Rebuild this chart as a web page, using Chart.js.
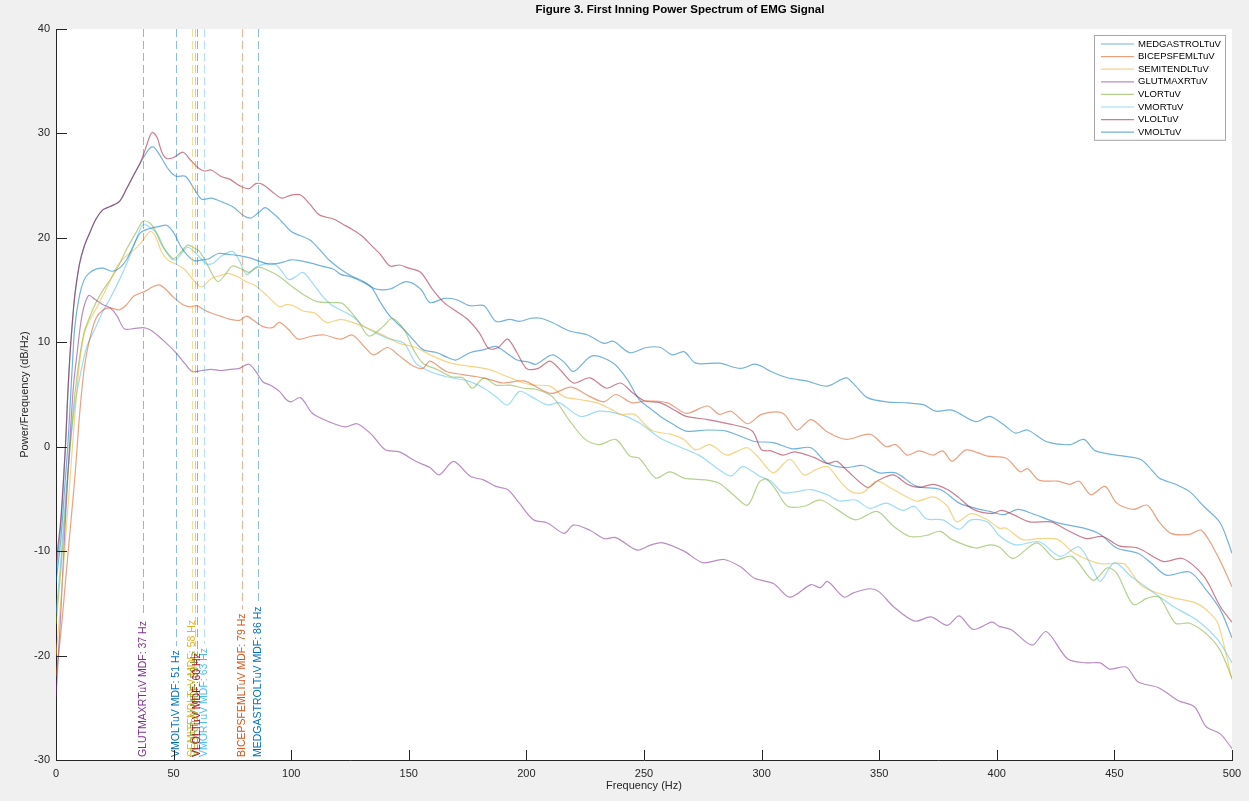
<!DOCTYPE html>
<html>
<head>
<meta charset="utf-8">
<title>First Inning Power Spectrum of EMG Signal</title>
<script src="https://cdn.jsdelivr.net/npm/chart.js@4.4.1/dist/chart.umd.min.js"></script>
<style>
  html, body { margin: 0; padding: 0; background: #f0f0f0; }
  #wrap { width: 1249px; height: 801px; position: relative; }
</style>
</head>
<body>
<div id="wrap"><canvas id="psd"></canvas></div>
<script>
// [Hz, dB/Hz] pairs for each channel, first inning
const medGastroL = [[0,-13],[2,-9],[4,-3],[5,0],[6,4],[7,8],[8,11.5],[10,14.5],[12,16],[14,16.6],[17,17],[20,17.1],[24,16.8],[27,17.1],[30,17.9],[33,19.3],[36,20.5],[40,20.9],[44,21.1],[47,21.2],[50,20.5],[53,19.2],[56,18.3],[59,17.8],[62,17.9],[65,18],[69,18.5],[74,18.4],[78,18.3],[82,18.1],[86,17.8],[90,17.5],[93,17.5],[97,17.7],[100,17.9],[104,17.8],[108,17.6],[113,17.3],[118,17],[121,16.5],[125,16.3],[131,15.7],[136,15.1],[142,15.1],[149,15.8],[155,15.1],[159,13.8],[165,14.2],[170,14.1],[176,13.5],[182,13.5],[187,12],[193,12.2],[197,12],[202,12.3],[206,12.3],[211,11.9],[218,11.1],[226,10.7],[233,9.9],[237,10.1],[244,9],[251,9.5],[257,9.5],[262,8.8],[267,9.1],[272,8],[282,8],[291,7.5],[297,7.9],[300,7.7],[304,7.2],[311,6.6],[319,6.3],[328,5.8],[336,6.6],[340,5.8],[345,4.7],[353,4.3],[362,4.2],[369,4],[374,3.4],[381,3.5],[391,2.4],[397,2.9],[403,2.1],[408,1.3],[413,1.6],[421,0.5],[431,0.2],[437,0.7],[442,-0.4],[454,-0.9],[461,-1.2],[465,-2],[469,-3],[476,-3.6],[482,-4.3],[488,-5.7],[495,-7.3],[500,-10.2]];

const bicepsFemL = [[0,-22],[2,-18],[4,-13],[6,-8],[8,-3],[10,3],[12,7.5],[14,10],[17,12.3],[20,13.1],[23,13.3],[27,13.1],[30,13.6],[33,14.4],[38,14.9],[41,15.3],[44,15.5],[47,15],[50,14.3],[54,13.6],[57,13.4],[60,13.5],[63,13.1],[66,12.8],[70,12.5],[74,12.2],[78,12.1],[81,12.5],[84,12.1],[88,11.5],[92,11.4],[95,11.9],[99,11.2],[103,10.3],[109,10.6],[114,10.7],[121,10.3],[126,10.7],[131,9.6],[135,8.8],[141,9.5],[146,8.7],[152,7.7],[156,7.5],[159,8.2],[166,7.2],[173,6.9],[179,6.7],[185,6.4],[190,6.1],[199,6.3],[206,5.5],[211,5.1],[219,5.7],[227,4.8],[233,4.3],[238,5],[245,4.2],[251,4.4],[260,4.2],[268,3.2],[277,3.9],[282,3.1],[287,3.4],[294,2.2],[300,3.1],[309,3.2],[315,1.6],[321,2.6],[328,1.4],[336,0.7],[346,1.2],[353,0],[357,0.2],[362,-0.8],[367,-0.4],[373,-0.8],[377,-0.4],[381,-1.4],[387,-0.3],[396,-0.9],[404,-1.1],[410,-2.4],[413,-2.1],[418,-3.2],[426,-3.3],[431,-3.6],[435,-3.3],[440,-4.6],[446,-3.8],[451,-5.4],[458,-6],[464,-5.6],[469,-7.2],[474,-8.3],[482,-8.4],[487,-8],[494,-10.5],[500,-13.4]];

const semitendL = [[0,-20],[2,-15],[4,-9],[6,-3],[8,3],[10,8],[12,10.8],[14,12],[17,13.2],[20,14.5],[23,15.9],[26,17.3],[30,18.3],[33,18.8],[36,19.5],[40,20.6],[42,20.3],[45,18.6],[48,17.8],[51,17.5],[55,16.9],[59,15.8],[62,15.3],[66,16.1],[70,16.4],[73,16.6],[77,16.3],[81,15.8],[85,15.4],[90,14.4],[95,13.4],[98,13.6],[101,13.5],[105,13],[110,12.8],[115,11.9],[121,12.2],[126,11.9],[132,11.4],[139,10.7],[146,9.9],[153,9.5],[160,8.7],[168,8],[176,7.7],[184,7.4],[192,6.7],[199,6.1],[203,5.9],[210,5.8],[216,4.8],[223,4.5],[230,4.2],[236,3.6],[240,3.1],[246,3.1],[250,2.2],[254,1.5],[261,1.2],[267,0.7],[272,-0.3],[278,0.2],[285,-0.8],[290,-0.4],[294,-0.1],[299,-1.1],[305,-2.5],[312,-1.2],[318,-2.7],[323,-2.2],[328,-1.9],[333,-3.2],[338,-4.3],[343,-4.4],[349,-3.3],[356,-4.1],[366,-5.2],[373,-4.8],[379,-5.7],[383,-7.2],[389,-6.4],[396,-7],[401,-7.8],[404,-7.8],[411,-8.9],[418,-8.8],[426,-8.9],[433,-10.2],[444,-11.2],[454,-11.2],[458,-12.3],[462,-13.4],[474,-14.4],[485,-15],[490,-15.8],[494,-16.9],[500,-22.3]];

const glutMaxR = [[0,-24],[2,-16],[4,-7],[6,1],[7.5,6],[9,9],[10.5,11.8],[12,13.5],[14,14.5],[16,14.2],[20,13.6],[23,13.3],[26,12.5],[29,11.3],[33,11.3],[37,11.4],[40,11.2],[43,10.7],[47,9.9],[51,9],[55,7.9],[58,7.2],[62,7.3],[66,7.4],[70,7.3],[74,7.4],[78,7.5],[82,7.9],[85,7.2],[88,6.2],[91,5.9],[95,5.3],[98,4.5],[100,4.3],[104,4.7],[109,3.2],[116,2.4],[123,1.9],[128,2.2],[134,1.2],[140,-0.3],[146,-0.5],[153,-1.4],[159,-2],[163,-2.7],[169,-1.4],[176,-2.8],[182,-3.2],[187,-3.8],[192,-4.1],[197,-5.4],[203,-7],[209,-7.3],[216,-8.3],[220,-7.5],[227,-8],[233,-8.8],[238,-8.7],[247,-9.9],[253,-9.4],[258,-9.2],[267,-10],[275,-11.1],[284,-10.8],[291,-11.5],[297,-12.6],[305,-13.1],[312,-14.4],[321,-13.2],[325,-13.5],[328,-12.9],[335,-14.4],[339,-14],[346,-13.6],[350,-13.9],[356,-15.3],[365,-16.7],[372,-16.3],[379,-17.1],[384,-16.2],[390,-17.5],[398,-16.8],[401,-17.2],[406,-17.5],[415,-19],[421,-17.7],[430,-20.3],[438,-20.7],[444,-20.7],[448,-21.3],[455,-21.1],[460,-22.5],[469,-23.1],[477,-24.3],[484,-24.9],[489,-26.8],[495,-27.5],[500,-28.9]];

const vlorR = [[0,-17],[2,-12],[4,-6],[6,0],[8,5],[10,8.5],[12,11],[15,12.8],[17,13.8],[20,15],[24,16.3],[27,17.5],[30,18.9],[34,20.5],[37,21.6],[40,21.4],[42,20.8],[45,19.3],[48,18.4],[50,18],[53,18.6],[56,19.3],[59,19],[61,18.7],[64,17.6],[67,16.3],[69,15.8],[72,16.5],[75,17.3],[79,17],[82,16.7],[86,17.2],[90,16.9],[95,16.3],[100,15.4],[105,14.6],[111,13.9],[118,13.8],[122,13.7],[128,12.2],[133,10.6],[139,11.5],[143,12.3],[148,11.2],[152,9.3],[156,8],[162,7.4],[168,6.7],[173,6.6],[177,5.6],[182,6.6],[187,5.9],[193,5.9],[199,5.6],[204,5.5],[211,4.8],[218,2.6],[225,0.7],[231,0.2],[238,0.7],[244,-0.9],[248,-1.1],[255,-3],[261,-2.4],[267,-3],[277,-3.2],[282,-3.5],[288,-4.6],[294,-5.6],[299,-3.4],[302,-3.1],[306,-4.1],[311,-5.7],[318,-5.7],[325,-5.1],[332,-6],[340,-7],[349,-6.2],[356,-7.6],[363,-8.6],[370,-8.5],[376,-8.1],[381,-8.9],[391,-9.7],[397,-9.4],[401,-9.6],[407,-10.7],[417,-9.2],[425,-10.8],[432,-10.5],[441,-12.8],[447,-11.6],[451,-12.1],[458,-15.1],[464,-14.5],[469,-14.4],[476,-16.9],[482,-16.9],[489,-17.9],[495,-19.5],[500,-22.2]];

const vmorR = [[0,-16],[2,-11],[4,-5],[6,0],[8,4],[10,6.5],[13,9.5],[17,11.5],[20,13],[23,14.2],[27,16],[30,17.5],[33,19.2],[37,21.3],[40,21],[43,20.4],[46,19],[49,18],[51,17.9],[53,18.4],[56,19.1],[60,18.4],[64,17.5],[67,17.6],[70,18.2],[75,18.7],[78,17.8],[81,16.5],[85,17.2],[89,17.5],[93,17.5],[96,16.8],[99,16],[102,16.3],[105,16.7],[109,15.7],[113,14.5],[117,13.6],[121,13.1],[126,12.5],[131,11.5],[136,10.9],[142,10.3],[148,9.9],[153,8],[159,7.2],[166,6.7],[175,6.3],[182,5.6],[187,4.8],[192,4],[197,5.3],[202,4.8],[209,4],[214,4.2],[223,2.9],[231,3.4],[240,3.1],[248,2.3],[257,0.8],[265,0],[274,-0.9],[282,-2.2],[287,-2.8],[292,-1.9],[299,-2.8],[304,-3.3],[309,-4.4],[315,-4.3],[321,-4.1],[328,-4.6],[333,-5.2],[340,-5.1],[346,-5.9],[353,-5.4],[360,-6.1],[365,-5.7],[370,-6.9],[377,-7],[384,-7.9],[389,-7],[396,-7.2],[401,-8.5],[408,-9.4],[418,-9.1],[427,-10.5],[435,-9.6],[441,-11.8],[444,-12.9],[450,-11.1],[457,-12.4],[465,-13.7],[475,-15.3],[485,-16.6],[494,-18.5],[500,-20.7]];

const vlolL = [[0,-11],[2,-7],[4,0],[5,5],[6,9],[7,12],[8,14.5],[10,17.5],[12,19.2],[14,20.3],[17,21.8],[20,22.7],[23,23],[27,23.5],[30,24.7],[33,26],[36,27.3],[38,28.5],[40,29.8],[41,30.1],[43,29.6],[45,28.2],[47,27.6],[50,27.7],[54,28.2],[57,27.5],[60,26.8],[63,26.4],[66,26.5],[70,25.9],[74,25.6],[78,25],[82,24.7],[85,25.2],[88,25.1],[92,24.4],[96,23.8],[100,24.1],[104,24.1],[108,23.2],[112,22.2],[118,21.8],[122,21.3],[126,20.8],[130,20.2],[134,19.3],[138,18.4],[142,17.3],[146,17.4],[150,17.1],[155,16.7],[160,15.1],[165,13.8],[170,13],[175,12.2],[180,10.9],[184,9.4],[188,9.5],[192,10.3],[196,9],[200,7.5],[205,7.5],[210,8.2],[215,7.2],[220,6.1],[227,6.6],[234,5.6],[240,6.1],[245,5.2],[250,4.4],[257,4.2],[263,3.5],[268,2.9],[277,2.6],[288,2.1],[296,1.5],[300,-0.3],[304,-0.4],[309,-0.8],[314,-0.5],[322,-1],[328,-1.6],[332,-1.4],[336,-2.2],[345,-3.9],[349,-3.3],[356,-2.7],[362,-3.6],[367,-3.9],[373,-3.6],[379,-4.1],[384,-4.9],[390,-6],[398,-6.4],[402,-6.1],[407,-6.5],[414,-7.2],[423,-7.2],[430,-8],[438,-8.8],[445,-8.6],[452,-9.5],[460,-9.7],[471,-11],[479,-10.7],[488,-12.4],[495,-15.3],[500,-16.8]];

const vmolL = [[0,-12],[2,-7.5],[4,0],[5,5],[6,9],[7,12],[8,14.5],[10,17.5],[12,19.2],[14,20.3],[17,21.8],[20,22.7],[23,23],[27,23.5],[30,24.7],[33,26],[36,27.2],[38,28],[40,28.6],[41.5,28.7],[43,28.3],[45,27.6],[48,26.5],[51,25.9],[55,25.9],[59,24.6],[62,23.7],[66,23.8],[71,23.4],[75,23],[80,22.1],[83,21.9],[86,22.4],[89,22.9],[92,22.4],[95,21.8],[100,20.6],[104,20.2],[108,19.8],[112,18.9],[116,17.9],[121,17],[126,16.3],[130,15.9],[134,15.3],[138,13.8],[142,12.5],[148,11.2],[152,10.2],[156,9.3],[162,9],[166,8.6],[170,8.3],[176,9],[182,9.3],[187,9.6],[192,8.9],[196,8.3],[201,8.1],[204,7.9],[211,8.8],[216,8.1],[220,7.2],[228,8.7],[237,8],[243,6.4],[248,4.5],[253,3.6],[257,2.9],[262,2.2],[268,1.5],[277,1.6],[285,1.5],[291,1],[297,0.5],[305,0.4],[313,-0.2],[321,-0.1],[328,-1.6],[336,-2],[343,-1.8],[350,-2.5],[357,-2.5],[366,-3.8],[376,-4.1],[384,-5.4],[391,-5.9],[397,-6.2],[403,-6.5],[409,-6],[415,-6.4],[426,-7.3],[437,-7.8],[444,-8.4],[451,-9.7],[460,-10.2],[466,-11.2],[472,-12.3],[482,-12],[489,-13.7],[495,-15.6],[500,-18.3]];

const channelNames = ['MEDGASTROLTuV', 'BICEPSFEMLTuV', 'SEMITENDLTuV', 'GLUTMAXRTuV', 'VLORTuV', 'VMORTuV', 'VLOLTuV', 'VMOLTuV'];
const channelSpectra = [medGastroL, bicepsFemL, semitendL, glutMaxR, vlorR, vmorR, vlolL, vmolL];
// median frequency per channel, Hz
const mdfHz = [86, 79, 58, 37, 59, 63, 60, 51];

const xTicks = [0, 50, 100, 150, 200, 250, 300, 350, 400, 450, 500];
const yTicks = [-30, -20, -10, 0, 10, 20, 30, 40];

// MATLAB default colour order
const rgb = ['0,114,189', '217,83,25', '237,177,32', '126,47,142', '119,172,48', '77,190,238', '162,20,47', '0,114,189'];

const FONT = '"Liberation Sans", Arial, Helvetica, sans-serif';
const AXIS_INK = '#262626';

const datasets = channelSpectra.map((pairs, i) => ({
    label: channelNames[i],
    data: pairs.map(p => ({ x: p[0], y: p[1] })),
    borderColor: `rgba(${rgb[i]},0.55)`,
    borderWidth: 1.2,
    pointRadius: 0,
    tension: 0.3,
    fill: false
}));

// grey figure, white axes box, inward ticks, title
const matlabFrame = {
    id: 'matlabFrame',
    beforeDraw(chart) {
        const { ctx, chartArea: a } = chart;
        ctx.save();
        ctx.fillStyle = '#f0f0f0';
        ctx.fillRect(0, 0, chart.width, chart.height);
        ctx.fillStyle = '#ffffff';
        ctx.fillRect(a.left, a.top, a.right - a.left, a.bottom - a.top);
        ctx.restore();
    },
    afterDraw(chart) {
        const { ctx, chartArea: a, scales } = chart;
        ctx.save();
        ctx.strokeStyle = AXIS_INK;
        ctx.lineWidth = 1;
        ctx.beginPath();
        xTicks.forEach(v => {
            const px = Math.round(scales.x.getPixelForValue(v)) + 0.5;
            ctx.moveTo(px, a.bottom);
            ctx.lineTo(px, a.bottom - 10);
        });
        yTicks.forEach(v => {
            const py = Math.round(scales.y.getPixelForValue(v)) + 0.5;
            ctx.moveTo(a.left, py);
            ctx.lineTo(a.left + 11, py);
        });
        ctx.stroke();

        ctx.fillStyle = '#000';
        ctx.font = 'bold 11.5px ' + FONT;
        ctx.textAlign = 'center';
        ctx.textBaseline = 'middle';
        ctx.fillText('Figure 3. First Inning Power Spectrum of EMG Signal', 680, 10);
        ctx.restore();
    }
};

// dashed median-frequency markers with labels running up from the x axis
const mdfMarkers = {
    id: 'mdfMarkers',
    afterDatasetsDraw(chart) {
        const { ctx, chartArea: a, scales } = chart;
        ctx.save();
        ctx.font = '10.5px ' + FONT;
        mdfHz.forEach((hz, i) => {
            const px = Math.round(scales.x.getPixelForValue(hz)) + 0.5;
            const text = `${channelNames[i]} MDF: ${hz} Hz`;
            const tw = ctx.measureText(text).width;
            const textStart = a.bottom - 3;
            ctx.strokeStyle = `rgba(${rgb[i]},0.45)`;
            ctx.lineWidth = 1;
            ctx.setLineDash([8, 4]);
            ctx.beginPath();
            ctx.moveTo(px, a.top);
            ctx.lineTo(px, textStart - tw - 4);
            ctx.stroke();
            ctx.setLineDash([]);

            ctx.save();
            ctx.translate(px, textStart);
            ctx.rotate(-Math.PI / 2);
            ctx.fillStyle = `rgb(${rgb[i]})`;
            ctx.textAlign = 'left';
            ctx.textBaseline = 'middle';
            ctx.fillText(text, 0, 0);
            ctx.restore();
        });
        ctx.restore();
    }
};

// boxed legend in the upper right of the axes
const boxLegend = {
    id: 'boxLegend',
    afterDraw(chart) {
        const { ctx, chartArea: a } = chart;
        const sets = chart.data.datasets;
        const w = 131, rowH = 12.6;
        const h = sets.length * rowH + 4;
        const x0 = a.right - 7 - w, y0 = a.top + 6;
        ctx.save();
        ctx.fillStyle = '#fff';
        ctx.fillRect(x0, y0, w, h);
        ctx.strokeStyle = '#a6a6a6';
        ctx.lineWidth = 1;
        ctx.strokeRect(Math.round(x0) + 0.5, Math.round(y0) + 0.5, w, h);
        ctx.font = '9.5px ' + FONT;
        ctx.textAlign = 'left';
        ctx.textBaseline = 'middle';
        sets.forEach((ds, i) => {
            const cy = y0 + 9 + i * rowH;
            ctx.strokeStyle = ds.borderColor;
            ctx.lineWidth = 1.2;
            ctx.beginPath();
            ctx.moveTo(x0 + 7, cy);
            ctx.lineTo(x0 + 40, cy);
            ctx.stroke();
            ctx.fillStyle = '#000';
            ctx.fillText(ds.label, x0 + 44, cy);
        });
        ctx.restore();
    }
};

new Chart(document.getElementById('psd'), {
    type: 'line',
    data: { datasets },
    options: {
        responsive: true,
        maintainAspectRatio: false,
        animation: false,
        layout: { padding: { top: 29, right: 17, bottom: 0, left: 0 } },
        plugins: {
            legend: { display: false },
            title: { display: false },
            tooltip: { enabled: false }
        },
        scales: {
            x: {
                type: 'linear',
                min: 0,
                max: 500,
                afterFit: s => { s.height = 41; },
                afterBuildTicks: s => { s.ticks = xTicks.map(v => ({ value: v })); },
                grid: { display: false, drawTicks: false, tickLength: 0 },
                border: { display: true, color: AXIS_INK, width: 1 },
                ticks: { color: AXIS_INK, padding: 7, maxRotation: 0, font: { family: FONT, size: 11 } },
                title: {
                    display: true,
                    text: 'Frequency (Hz)',
                    color: AXIS_INK,
                    padding: { top: 0, bottom: 8 },
                    font: { family: FONT, size: 11 }
                }
            },
            y: {
                type: 'linear',
                min: -30,
                max: 40,
                afterFit: s => { s.width = 56; },
                afterBuildTicks: s => { s.ticks = yTicks.map(v => ({ value: v })); },
                grid: { display: false, drawTicks: false, tickLength: 0 },
                border: { display: true, color: AXIS_INK, width: 1 },
                ticks: { color: AXIS_INK, padding: 6, font: { family: FONT, size: 11 } },
                title: {
                    display: true,
                    text: 'Power/Frequency (dB/Hz)',
                    color: AXIS_INK,
                    padding: { top: 18, bottom: 0 },
                    font: { family: FONT, size: 11 }
                }
            }
        }
    },
    plugins: [matlabFrame, mdfMarkers, boxLegend]
});
</script>
</body>
</html>
